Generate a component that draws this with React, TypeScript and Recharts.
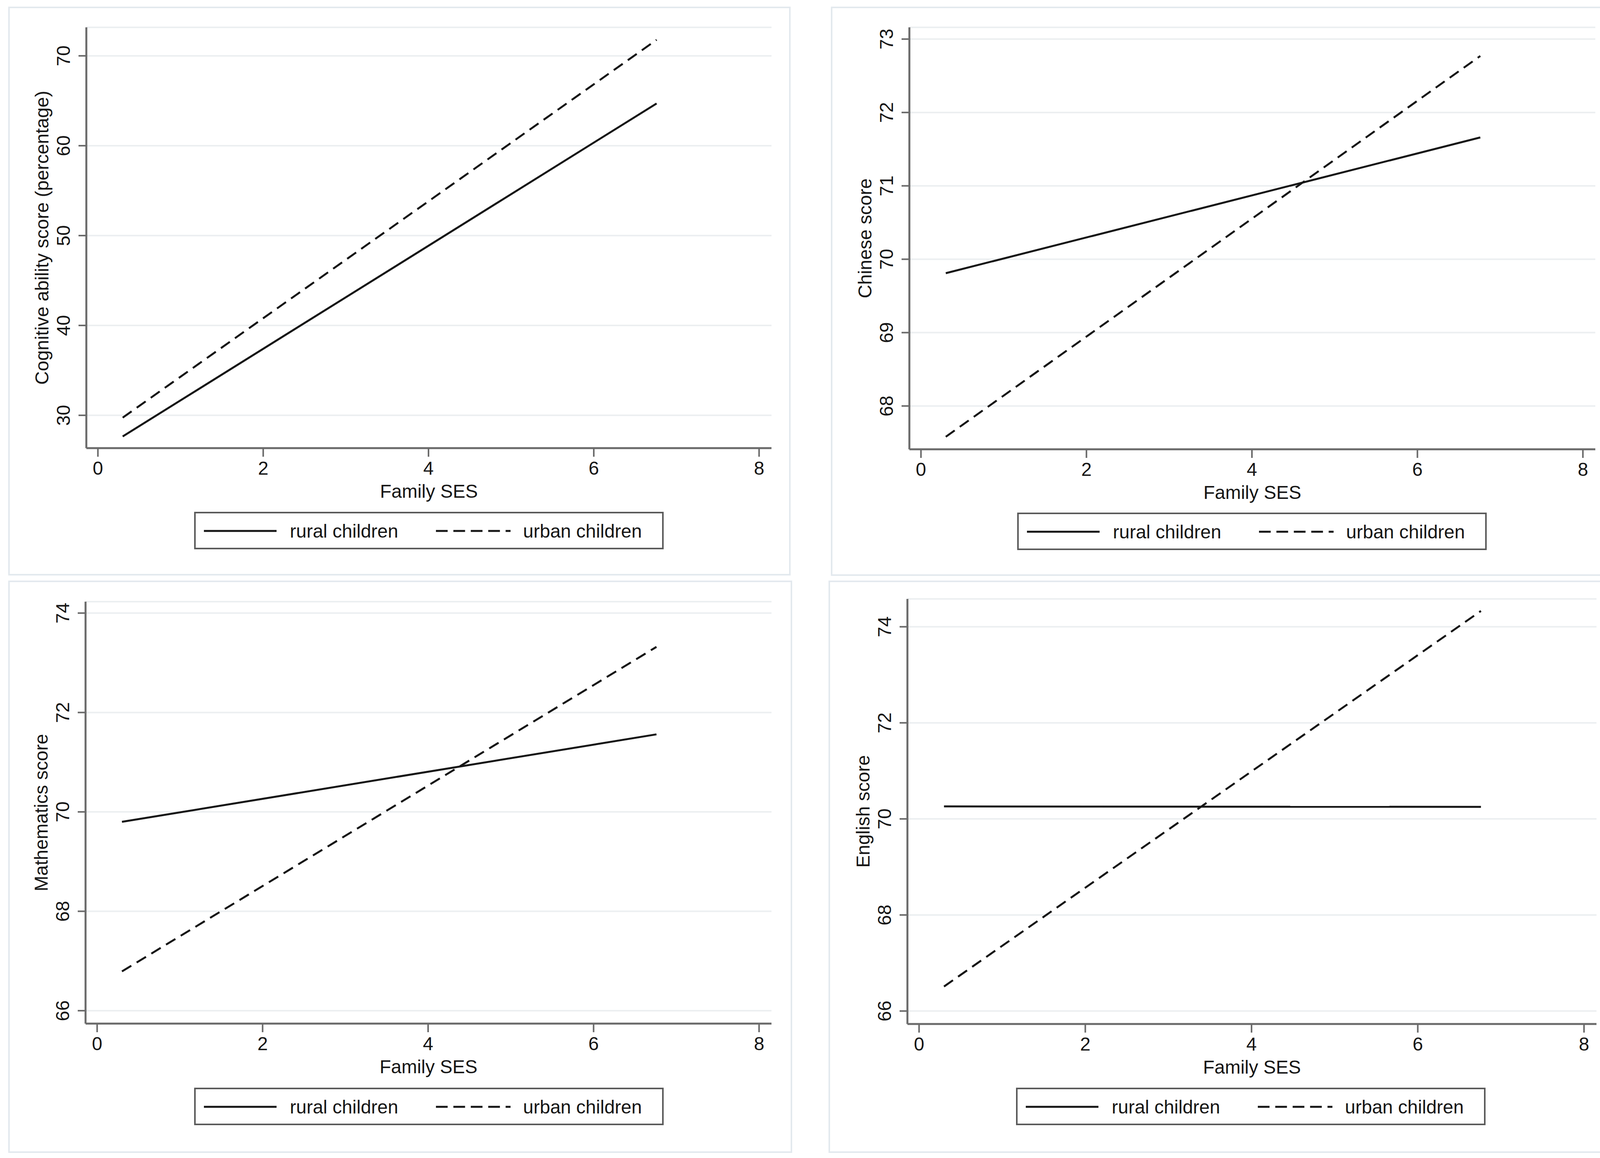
import React from 'react';
import { LineChart, Line, XAxis, YAxis, CartesianGrid, Label } from 'recharts';

// x values (Family SES) of the fitted lines
const sesPoints = [0.3, 6.76];
const xTicks = [0, 2, 4, 6, 8];

const cognitiveRural = [27.65, 64.7];
const cognitiveUrban = [29.74, 71.78];
const chineseRural = [69.81, 71.66];
const chineseUrban = [67.58, 72.77];
const mathRural = [69.8, 71.56];
const mathUrban = [66.79, 73.32];
const englishRural = [70.26, 70.25];
const englishUrban = [66.51, 74.33];

const cognitiveTicks = [30, 40, 50, 60, 70];
const chineseTicks = [68, 69, 70, 71, 72, 73];
const mathTicks = [66, 68, 70, 72, 74];
const englishTicks = [66, 68, 70, 72, 74];

const seriesLabels = ['rural children', 'urban children'];

const FONT = "'Liberation Sans', Arial, Helvetica, sans-serif";
const FS = 48;
const AXIS = '#6a6a6a';
const INK = '#151515';

const toRows = (rural: number[], urban: number[]) =>
  sesPoints.map((ses, i) => ({ ses, rural: rural[i], urban: urban[i] }));

interface PanelProps {
  frame: { l: number; t: number; r: number; b: number };
  plot: { x1: number; x2: number; y1: number; y2: number };
  yDomain: [number, number];
  yTicks: number[];
  yTitle: string;
  rural: number[];
  urban: number[];
  legend: { x: number; y: number };
}

const Panel: React.FC<PanelProps> = ({ frame, plot, yDomain, yTicks, yTitle, rural, urban, legend }) => {
  const W = frame.r - frame.l;
  const H = frame.b - frame.t;
  const yw = plot.x1 - frame.l;
  const top = plot.y1 - frame.t;
  const ph = plot.y2 - plot.y1;
  const pw = plot.x2 - plot.x1;
  const xh = 200;
  const axisY = top + ph;
  const data = toRows(rural, urban);

  const yTick = (props: any) => (
    <text
      x={yw - 42}
      y={props.y}
      transform={`rotate(-90, ${yw - 42}, ${props.y})`}
      textAnchor="middle"
      fontSize={FS}
      fontFamily={FONT}
      fill={INK}
    >
      {props.payload.value}
    </text>
  );

  const xTick = (props: any) => (
    <text x={props.x} y={axisY + 68} textAnchor="middle" fontSize={FS} fontFamily={FONT} fill={INK}>
      {props.payload.value}
    </text>
  );

  const xTitle = () => (
    <text x={yw + pw / 2} y={axisY + 127} textAnchor="middle" fontSize={FS} fontFamily={FONT} fill={INK}>
      Family SES
    </text>
  );

  const yTitleEl = () => {
    const tx = yw - 97;
    const ty = top + ph / 2;
    return (
      <text x={tx} y={ty} transform={`rotate(-90, ${tx}, ${ty})`} textAnchor="middle" fontSize={FS} fontFamily={FONT} fill={INK}>
        {yTitle}
      </text>
    );
  };

  return (
    <>
      <div
        style={{
          position: 'absolute',
          left: frame.l,
          top: frame.t,
          width: W,
          height: H,
          boxSizing: 'border-box',
          border: '4px solid #e3e9ee',
          background: '#fff',
        }}
      />
      <div style={{ position: 'absolute', left: frame.l, top: frame.t, width: W, height: H }}>
        <LineChart
          width={W}
          height={H}
          data={data}
          margin={{ top, right: frame.r - plot.x2, bottom: H - axisY - xh, left: 0 }}
        >
          <CartesianGrid horizontal vertical={false} stroke="#eceff1" strokeWidth={4} />
          <XAxis
            type="number"
            dataKey="ses"
            domain={[-0.14, 8.15]}
            ticks={xTicks}
            interval={0}
            allowDataOverflow
            height={xh}
            tickSize={22}
            axisLine={{ stroke: AXIS, strokeWidth: 5 }}
            tickLine={{ stroke: AXIS, strokeWidth: 4 }}
            tick={xTick}
            label={<Label content={xTitle} />}
          />
          <YAxis
            type="number"
            domain={yDomain}
            ticks={yTicks}
            interval={0}
            allowDataOverflow
            width={yw}
            tickSize={20}
            axisLine={{ stroke: AXIS, strokeWidth: 5 }}
            tickLine={{ stroke: AXIS, strokeWidth: 4 }}
            tick={yTick}
            label={<Label content={yTitleEl} />}
          />
          <Line type="linear" dataKey="rural" stroke={INK} strokeWidth={5} dot={false} isAnimationActive={false} />
          <Line
            type="linear"
            dataKey="urban"
            stroke={INK}
            strokeWidth={5}
            strokeDasharray="28 16"
            dot={false}
            isAnimationActive={false}
          />
        </LineChart>
      </div>
      <svg
        style={{ position: 'absolute', left: legend.x - 2, top: legend.y - 2 }}
        width={1202}
        height={96}
      >
        <rect x={2} y={2} width={1198} height={92} fill="#fff" stroke="#5a5a5a" strokeWidth={4} />
        <line x1={25} x2={211} y1={49} y2={49} stroke={INK} strokeWidth={5} />
        <text x={245} y={66} fontSize={FS} fontFamily={FONT} fill={INK}>
          {seriesLabels[0]}
        </text>
        <line x1={619} x2={810} y1={49} y2={49} stroke={INK} strokeWidth={5} strokeDasharray="30 14.6" />
        <text x={842} y={66} fontSize={FS} fontFamily={FONT} fill={INK}>
          {seriesLabels[1]}
        </text>
      </svg>
    </>
  );
};

export default function App() {
  return (
    <div style={{ position: 'absolute', left: 0, top: 0, width: 4160, height: 2964, background: '#fff', overflow: 'hidden' }}>
      <Panel
        frame={{ l: 21, t: 17, r: 2024, b: 1473 }}
        plot={{ x1: 221, x2: 1975, y1: 70, y2: 1147 }}
        yDomain={[26.35, 73.17]}
        yTicks={cognitiveTicks}
        yTitle="Cognitive ability score (percentage)"
        rural={cognitiveRural}
        urban={cognitiveUrban}
        legend={{ x: 499, y: 1312 }}
      />
      <Panel
        frame={{ l: 2127, t: 17, r: 4138, b: 1474 }}
        plot={{ x1: 2328, x2: 4084, y1: 70, y2: 1150 }}
        yDomain={[67.41, 73.16]}
        yTicks={chineseTicks}
        yTitle="Chinese score"
        rural={chineseRural}
        urban={chineseUrban}
        legend={{ x: 2606, y: 1314 }}
      />
      <Panel
        frame={{ l: 21, t: 1486, r: 2028, b: 2951 }}
        plot={{ x1: 219, x2: 1975, y1: 1540, y2: 2620 }}
        yDomain={[65.74, 74.23]}
        yTicks={mathTicks}
        yTitle="Mathematics score"
        rural={mathRural}
        urban={mathUrban}
        legend={{ x: 499, y: 2786 }}
      />
      <Panel
        frame={{ l: 2121, t: 1486, r: 4138, b: 2951 }}
        plot={{ x1: 2323, x2: 4087, y1: 1533, y2: 2621 }}
        yDomain={[65.73, 74.58]}
        yTicks={englishTicks}
        yTitle="English score"
        rural={englishRural}
        urban={englishUrban}
        legend={{ x: 2603, y: 2786 }}
      />
    </div>
  );
}
